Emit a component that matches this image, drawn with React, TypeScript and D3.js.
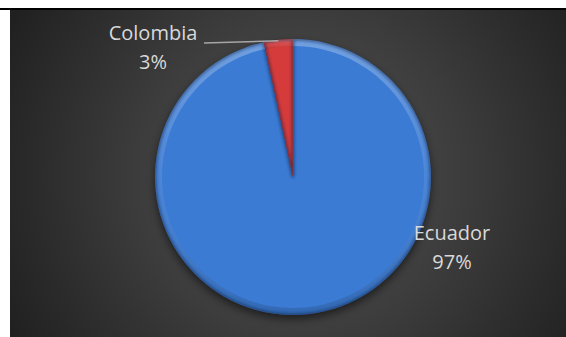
import React from "react";
import * as d3 from "d3";

const categories = ["Ecuador", "Colombia"];
const values = [96.6, 3.4];
const colors = ["#3b7bd4", "#d63b3b"];

const W = 566;
const H = 337;

export default function App() {
  const cx = 293;
  const cy = 177;
  const r = 138;
  const data = categories.map((c, i) => ({ c, v: values[i], color: colors[i] }));
  const pie = d3.pie<any>().value((d) => d.v).sort(null).startAngle(0).endAngle(2 * Math.PI);
  const arcs = pie(data);
  const arc = d3.arc<any>().innerRadius(0).outerRadius(r);
  const total = d3.sum(values);
  const pct = (v: number) => `${Math.round((v / total) * 100)}%`;

  // label placement (Excel best-fit positions)
  const labelPos: Record<string, { x: number; y: number }> = {
    Ecuador: { x: 452, y: 240 },
    Colombia: { x: 153, y: 40 },
  };
  const colArc = arcs[1];
  const leaderEnd = [cx + Math.sin((colArc.startAngle + colArc.endAngle) / 2) * r, cy - Math.cos((colArc.startAngle + colArc.endAngle) / 2) * r + 1];

  return (
    <svg width={W} height={H} style={{ position: "absolute", left: 0, top: 0 }}>
      <defs>
        <radialGradient id="bg" gradientUnits="userSpaceOnUse" cx={300} cy={175} r={330}>
          <stop offset="0" stopColor="#555555" />
          <stop offset="0.5" stopColor="#3c3c3c" />
          <stop offset="1" stopColor="#202020" />
        </radialGradient>
        <filter id="shadow" x="-20%" y="-20%" width="140%" height="140%">
          <feGaussianBlur stdDeviation="4" />
        </filter>
        <filter id="soft" x="-10%" y="-10%" width="120%" height="120%">
          <feGaussianBlur stdDeviation="1.6" />
        </filter>
        <linearGradient id="rim" x1="0" y1="0" x2="0" y2="1">
          <stop offset="0" stopColor="#ffffff" stopOpacity="0.28" />
          <stop offset="0.5" stopColor="#ffffff" stopOpacity="0.08" />
          <stop offset="1" stopColor="#000000" stopOpacity="0.15" />
        </linearGradient>
        {arcs.map((a, i) => (
          <clipPath id={`clip${i}`} key={i}>
            <path d={arc(a) || ""} transform={`translate(${cx},${cy})`} />
          </clipPath>
        ))}
      </defs>
      <rect x={0} y={0} width={W} height={H} fill="#ffffff" />
      <rect x={0} y={8} width={W} height={2} fill="#000000" />
      <rect x={10} y={10} width={W - 10} height={H - 10} fill="url(#bg)" />

      <circle cx={cx} cy={cy + 4} r={r} fill="#000" opacity={0.55} filter="url(#shadow)" />

      {arcs.map((a, i) => (
        <g key={i}>
          <path d={arc(a) || ""} transform={`translate(${cx},${cy})`} fill={a.data.color} />
          <g clipPath={`url(#clip${i})`}>
            <path
              d={d3.arc<any>().innerRadius(r - 7).outerRadius(r)(a) || ""}
              transform={`translate(${cx},${cy})`}
              fill="url(#rim)"
            />
            <path
              d={arc(a) || ""}
              transform={`translate(${cx},${cy})`}
              fill="none"
              stroke="#0d2244"
              strokeOpacity={0.55}
              strokeWidth={3}
              filter="url(#soft)"
            />
          </g>
        </g>
      ))}

      <line x1={204} y1={43} x2={leaderEnd[0]} y2={leaderEnd[1]} stroke="#a6a6a6" strokeWidth={1.5} />

      {arcs.map((a, i) => {
        const p = labelPos[a.data.c];
        return (
          <text
            key={i}
            x={p.x}
            y={p.y}
            textAnchor="middle"
            fontFamily="'Open Sans', sans-serif"
            fontSize={20}
            fill="#d9d9d9"
          >
            <tspan x={p.x}>{a.data.c}</tspan>
            <tspan x={p.x} dy={29}>{pct(a.data.v)}</tspan>
          </text>
        );
      })}
    </svg>
  );
}
